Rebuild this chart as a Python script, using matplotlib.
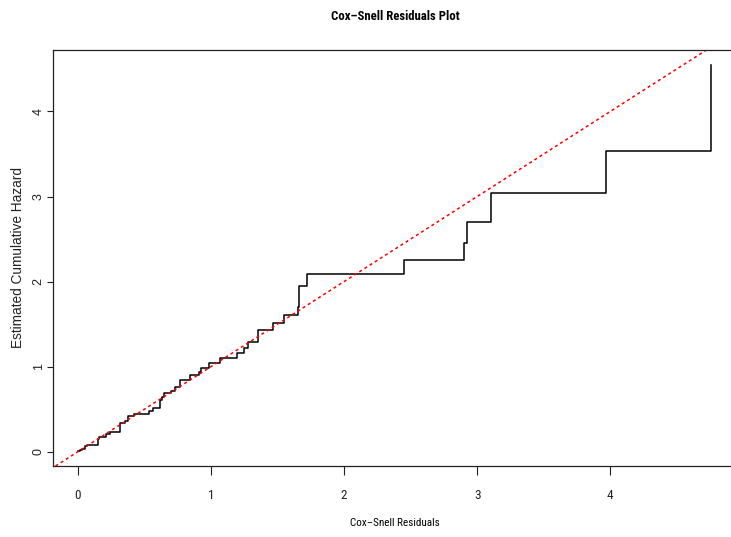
import numpy as np
import matplotlib
matplotlib.use("Agg")
import matplotlib.pyplot as plt

# Cox-Snell residuals (event times) and Nelson-Aalen cumulative hazard
resid = [0.005, 0.02, 0.033, 0.057, 0.07, 0.153, 0.158, 0.215, 0.245, 0.32,
         0.358, 0.375, 0.42, 0.533, 0.565, 0.615, 0.633, 0.65, 0.70, 0.728,
         0.77, 0.845, 0.908, 0.928, 0.99, 1.07, 1.195, 1.253, 1.278, 1.358,
         1.465, 1.553, 1.653, 1.663, 1.723, 2.448, 2.903, 2.926, 3.106,
         3.966, 4.754]
cumhaz = [0.015, 0.024, 0.039, 0.071, 0.086, 0.157, 0.169, 0.208, 0.235, 0.337,
          0.365, 0.424, 0.45, 0.482, 0.51, 0.612, 0.65, 0.69, 0.718, 0.757,
          0.847, 0.898, 0.941, 0.988, 1.043, 1.098, 1.161, 1.224, 1.286, 1.435,
          1.514, 1.612, 1.70, 1.945, 2.09, 2.255, 2.459, 2.706, 3.043,
          3.541, 4.541]
xticks = [0, 1, 2, 3, 4]
yticks = [0, 1, 2, 3, 4]

narrow = ["Roboto Condensed", "DejaVu Sans"]
plt.rcParams["font.family"] = ["Liberation Sans", "DejaVu Sans"]

W, H = 731, 537
fig = plt.figure(figsize=(W / 100, H / 100), dpi=100)
ax = fig.add_axes([53 / W, 71 / H, 683 / W, 416 / H])

ax.plot(resid, cumhaz, drawstyle="steps-post", color="black", lw=1.1)
ax.axline((0, 0), slope=1, color="red", lw=1.1, linestyle=(0, (2.0, 2.0)))

# R style 4% padding around data range
def pad(lo, hi):
    r = hi - lo
    return lo - 0.04 * r, hi + 0.04 * r

ax.set_xlim(*pad(min(resid), max(resid)))
ax.set_ylim(*pad(min(cumhaz), max(cumhaz)))

ax.set_xticks(xticks)
ax.set_yticks(yticks)
ax.set_xticklabels([str(v) for v in xticks], family=narrow, fontsize=9.5)
ax.set_yticklabels([str(v) for v in yticks], rotation=90, va="center", fontsize=9)
ax.tick_params(axis="x", length=6.5, width=0.8, pad=10, colors="#222222")
ax.tick_params(axis="y", length=4, width=0.8, pad=2, colors="#222222")

for s in ax.spines.values():
    s.set_linewidth(0.9)
    s.set_color("#222222")

fig.text(395 / W, 1 - 17 / H, "Cox\u2013Snell Residuals Plot", family=narrow,
         fontweight="bold", fontsize=9.2, ha="center", va="center")
ax.set_xlabel("Cox\u2013Snell Residuals", family=narrow, fontsize=8)
ax.xaxis.set_label_coords(0.5, (466 - 518) / 416)
ax.set_ylabel("Estimated Cumulative Hazard", fontsize=9.8, color="#222222")
ax.yaxis.set_label_coords((25 - 53) / 683, 0.5)

fig.savefig("out.png", dpi=100)
